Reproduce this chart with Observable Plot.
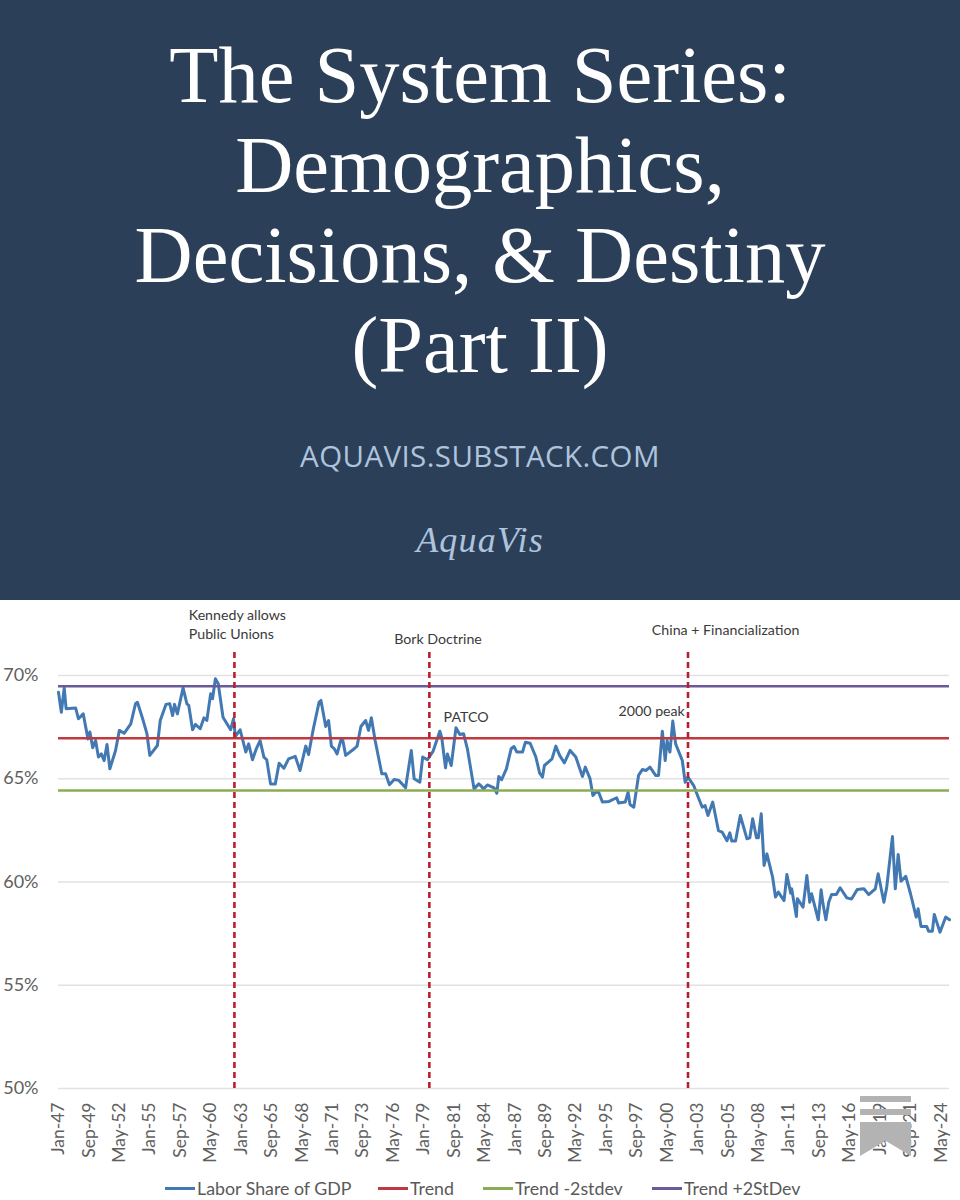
<!DOCTYPE html>
<html><head><meta charset="utf-8">
<script src="https://cdn.jsdelivr.net/npm/d3@7"></script>
<script src="https://cdn.jsdelivr.net/npm/@observablehq/plot@0.6"></script>
<style>
html,body{margin:0;padding:0;background:#fff;width:960px;overflow:hidden}
#head{height:600px;background:#2b3f58;position:relative;text-align:center;color:#fff}
#title{position:absolute;top:30px;left:0;width:960px;font:80.5px/90px "Liberation Serif",serif}
#sub{position:absolute;top:438px;left:0;width:960px;font:29.5px/36px "Open Sans",sans-serif;letter-spacing:.4px;color:#aec4dd}
#author{position:absolute;top:520px;left:0;width:960px;font:italic 36px/40px "Liberation Serif",serif;letter-spacing:1.2px;color:#aec4dd}
#chart{position:relative;height:600px;background:#fff}
#chart svg{display:block}
#legend{position:absolute;left:0;top:570px;width:960px;height:30px;font:17.8px/30px Lato,sans-serif;color:#595959}
#legend span{position:absolute;white-space:nowrap;top:3px}
#legend i{position:absolute;width:30px;height:3px;top:17px}
.bm{position:absolute;background:#b3b3b3;left:860px;width:51px}
</style></head><body>
<div id="head">
<div id="title">The System Series:<br>Demographics,<br>Decisions, &amp; Destiny<br>(Part II)</div>
<div id="sub">AQUAVIS.SUBSTACK.COM</div>
<div id="author">AquaVis</div>
</div>
<div id="chart"></div>
<script>
const months = [0,3,6,8,18,21,26,31,33,36,39,42,45,48,51,54,60,64,69,76,81,83,88,93,96,104,107,113,117,120,122,125,131,135,137,141,144,149,153,156,160,162,165,168,173,181,184,186,191,197,200,204,208,212,216,219,223,228,232,237,242,249,254,260,263,268,274,276,281,284,287,290,293,297,299,302,311,314,318,323,326,329,333,340,344,348,353,358,365,371,374,380,383,388,394,401,403,407,409,413,418,422,426,430,437,442,444,447,451,458,461,463,466,471,476,479,482,488,491,496,502,506,509,511,519,523,527,532,538,544,551,554,559,562,565,568,572,579,587,589,596,599,601,605,610,614,618,622,628,631,635,638,640,643,646,649,656,659,662,668,672,677,680,683,688,694,698,703,706,708,712,717,724,727,730,734,736,739,742,745,751,754,757,763,766,770,771,776,777,783,787,790,792,799,802,804,807,810,813,818,822,829,834,840,847,852,859,862,868,871,877,880,883,886,891,896,902,904,907,913,915,919,921,927,933,937];
const laborShare = [69.19,68.22,69.40,68.39,68.43,67.90,68.14,66.93,67.26,66.5,66.85,66.05,66.2,65.88,66.66,65.48,66.37,67.34,67.2,67.66,68.63,68.7,67.98,67.18,66.13,66.61,67.82,68.6,68.63,68.06,68.6,68.14,69.4,68.63,68.55,67.37,67.63,67.42,67.95,67.82,69.11,68.87,69.84,69.6,67.98,67.37,67.9,67.05,67.37,66.29,66.69,65.92,66.45,66.85,66.05,65.92,64.75,64.75,65.75,65.51,65.96,66.08,65.4,66.58,66.17,67.42,68.7,68.79,67.53,67.82,66.58,66.45,66.2,66.88,66.85,66.13,66.45,66.58,67.53,67.82,67.34,67.95,66.85,65.24,65.24,64.71,64.96,64.92,64.56,66.37,65.0,64.83,66.05,65.92,66.34,67.30,67.0,65.53,66.2,65.64,67.47,67.14,67.18,66.45,64.51,64.75,64.67,64.5,64.7,64.56,64.3,65.11,64.95,65.48,66.45,66.56,66.29,66.29,66.77,66.72,66.05,65.27,65.08,65.64,65.96,66.58,66.13,65.77,66.37,66.05,65.11,65.56,65.0,64.19,64.35,64.35,63.87,63.9,64.08,63.83,63.87,64.35,63.75,63.62,65.16,65.45,65.4,65.56,65.16,65.16,67.3,65.88,66.85,66.29,67.79,66.69,65.88,64.83,65.08,64.67,64.19,63.62,63.7,63.22,63.87,62.49,62.41,62.0,62.38,61.98,61.98,63.22,62.09,62.14,63.06,62.14,62.14,63.3,60.8,61.36,60.23,59.27,59.51,59.1,60.36,59.46,59.67,58.33,59.19,58.78,60.31,59.02,59.43,58.17,59.62,58.93,58.17,59.02,59.39,59.39,59.72,59.23,59.18,59.64,59.67,59.39,59.67,60.4,59.02,59.75,62.2,59.67,61.33,60.04,60.27,59.43,58.3,58.7,57.85,57.85,57.62,57.62,58.43,57.57,58.3,58.17];
const tickMonths = [0,32,64,96,128,160,192,224,256,288,320,352,384,416,448,480,512,544,576,608,640,672,704,736,768,800,832,864,896,928];
const tickLabels = ["Jan-47","Sep-49","May-52","Jan-55","Sep-57","May-60","Jan-63","Sep-65","May-68","Jan-71","Sep-73","May-76","Jan-79","Sep-81","May-84","Jan-87","Sep-89","May-92","Jan-95","Sep-97","May-00","Jan-03","Sep-05","May-08","Jan-11","Sep-13","May-16","Jan-19","Sep-21","May-24"];
const gridValues = [50,55,60,65,70];
const trendNames = ["Trend","Trend -2stdev","Trend +2StDev"];
const trendValues = [66.96,64.43,69.48];
const trendColors = ["#c0393f","#8aac55","#6a5a9a"];
const eventMonths = [185,390,662];
const noteLabels = ["Kennedy allows","Public Unions","Bork Doctrine","China + Financialization","PATCO","2000 peak"];
const noteMonths = [137,137,353,624,405,589];
const noteValues = [72.9,71.99,71.74,72.18,67.97,68.26];
const series = months.map((m,i)=>({m,v:laborShare[i]}));
const notes = noteLabels.map((t,i)=>({t,m:noteMonths[i],v:noteValues[i]}));
const font = "Lato, sans-serif";
const chart = Plot.plot({
  width:960, height:570, marginLeft:58, marginRight:11, marginTop:0, marginBottom:82,
  style:{background:"#fff",fontFamily:font},
  x:{type:"linear",domain:[0,937],label:null},
  y:{domain:[50,73.63],label:null},
  marks:[
    Plot.ruleY(gridValues,{stroke:"#e2e2e2",strokeWidth:1.5}),
    Plot.line(series,{x:"m",y:"v",stroke:"#4379b2",strokeWidth:3,strokeLinejoin:"round"}),
    Plot.ruleY(trendValues,{y:d=>d,stroke:(d,i)=>trendColors[i],strokeWidth:2.6}),
    Plot.ruleX(eventMonths,{y1:50,y2:71.3,stroke:"#b8202f",strokeWidth:2.6,strokeDasharray:"6,4"}),
    Plot.text(notes,{x:"m",y:"v",text:"t",textAnchor:"start",fontSize:14.2,fill:"#3a3a3a",fontFamily:font}),
    Plot.axisX({ticks:tickMonths,tickFormat:(d)=>tickLabels[tickMonths.indexOf(d)],tickSize:0,tickPadding:14,tickRotate:-90,fontSize:17.5,fill:"#606060",fontFamily:font,label:null,textAnchor:"end",anchor:"bottom"}),
    Plot.axisY({ticks:gridValues,tickFormat:d=>d+"%",tickSize:0,tickPadding:20,fontSize:18,fill:"#606060",fontFamily:font,label:null})
  ]
});
const box = document.getElementById("chart");
box.appendChild(chart);
const legendNames = ["Labor Share of GDP",...trendNames];
const legendColors = ["#4379b2",...trendColors];
const legendStarts = [165,378,483,652];
const lg = document.createElement("div"); lg.id="legend";
legendNames.forEach((n,i)=>{
  const sw=document.createElement("i"); sw.style.left=legendStarts[i]+"px"; sw.style.background=legendColors[i]; lg.appendChild(sw);
  const s=document.createElement("span"); s.textContent=n; s.style.left=(legendStarts[i]+32)+"px"; lg.appendChild(s);
});
box.appendChild(lg);
[["496px","6px"],["509px","6px"]].forEach(([t,h])=>{const b=document.createElement("div");b.className="bm";b.style.top=t;b.style.height=h;box.appendChild(b);});
const b3=document.createElement("div");b3.className="bm";b3.style.top="522px";b3.style.height="34px";b3.style.clipPath="polygon(0 0,100% 0,100% 100%,50% 55%,0 100%)";box.appendChild(b3);
</script>
</body></html>
